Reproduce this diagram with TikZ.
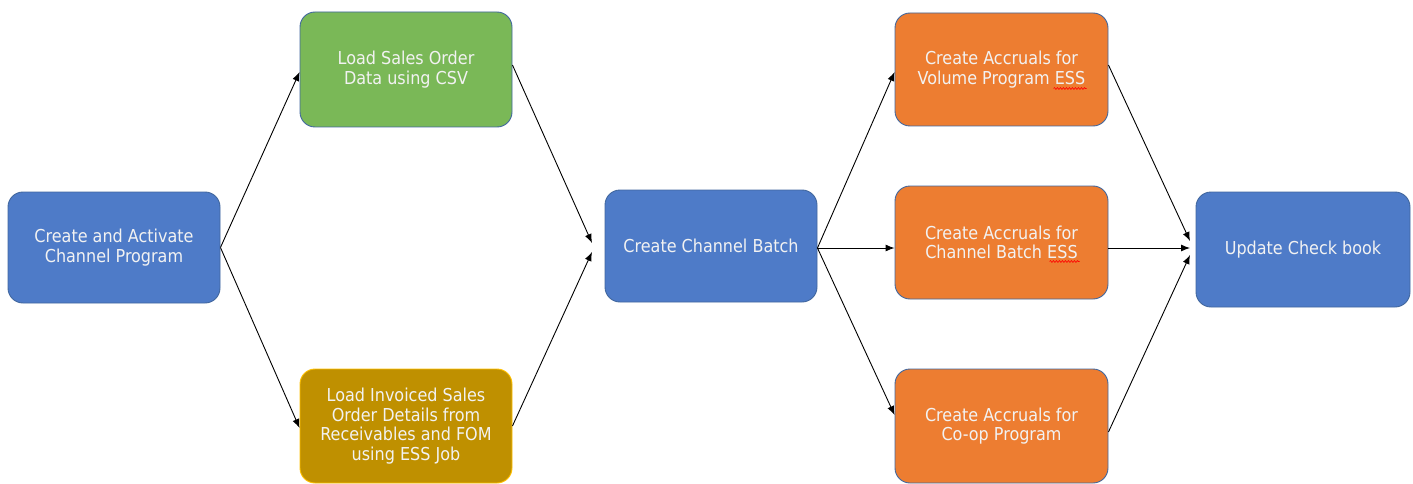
\documentclass[tikz,border=0pt]{standalone}
\usepackage{fontspec}
\setmainfont{DejaVu Sans Condensed}
\usetikzlibrary{arrows.meta,decorations.pathmorphing,calc}
\definecolor{bluef}{HTML}{4E7BC8}
\definecolor{blued}{HTML}{41679E}
\definecolor{greenf}{HTML}{7AB857}
\definecolor{goldf}{HTML}{BF9000}
\definecolor{goldd}{HTML}{FFC000}
\definecolor{orangef}{HTML}{ED7D31}
\definecolor{txt}{HTML}{F2F2F2}
\tikzset{
  box/.style={draw=blued, line width=0.9pt, rounded corners=15pt, text=txt, align=center,
    font=\fontsize{17.8}{19.5}\selectfont, inner sep=0pt},
  conn/.style={draw=black, line width=0.9pt, -{Latex[length=9pt,width=7pt]}},
  squig/.style={draw=red, line width=0.6pt, decorate, decoration={snake, amplitude=0.9pt, segment length=3pt}},
}
\begin{document}
\begin{tikzpicture}[x=1pt,y=-1pt]
\useasboundingbox (0,0) rectangle (1413,484);
\node[box, fill=bluef, minimum width=212pt, minimum height=111pt] (ccp) at (114,247.5) {Create and Activate\\Channel Program};
\node[box, fill=greenf, minimum width=212pt, minimum height=115pt] (lso) at (406,69.5) {Load Sales Order\\Data using CSV};
\node[box, fill=goldf, draw=goldd, minimum width=212pt, minimum height=114pt] (lis) at (406,426) {Load Invoiced Sales\\Order Details from\\Receivables and FOM\\using ESS Job};
\node[box, fill=bluef, minimum width=212pt, minimum height=112pt] (ccb) at (711,246) {Create Channel Batch};
\node[box, fill=orangef, minimum width=213pt, minimum height=113pt] (avp) at (1001.5,69.5) {Create Accruals for\\Volume Program ESS};
\node[box, fill=orangef, minimum width=213pt, minimum height=113pt] (acb) at (1001.5,242.5) {Create Accruals for\\Channel Batch ESS};
\node[box, fill=orangef, minimum width=213pt, minimum height=114pt] (acp) at (1001.5,426) {Create Accruals for\\Co-op Program};
\node[box, fill=bluef, minimum width=214pt, minimum height=115pt] (ucb) at (1303,249.5) {Update Check book};

\draw[squig] ($(avp.center)+(52,19)$) -- ($(avp.center)+(85,19)$);
\draw[squig] ($(acb.center)+(48,19)$) -- ($(acb.center)+(78,19)$);

\coordinate (in1) at (592,243);
\coordinate (in2) at (592,252);
\coordinate (in3) at (1190,241);
\coordinate (in4) at (1190,248);
\coordinate (in5) at (1190,255);

\draw[conn] (ccp.east) -- (lso.west |- 0,72);
\draw[conn] (ccp.east) -- (lis.west |- 0,428);
\draw[conn] (lso.east |- 0,65) -- (in1);
\draw[conn] (lis.east |- 0,426) -- (in2);
\draw[conn] (ccb.east |- 0,248) -- (avp.west |- 0,72);
\draw[conn] (ccb.east |- 0,248) -- (acb.west |- 0,248);
\draw[conn] (ccb.east |- 0,248) -- (acp.west |- 0,415);
\draw[conn] (avp.east |- 0,65) -- (in3);
\draw[conn] (acb.east |- 0,248) -- (in4);
\draw[conn] (acp.east |- 0,432) -- (in5);
\end{tikzpicture}
\end{document}
